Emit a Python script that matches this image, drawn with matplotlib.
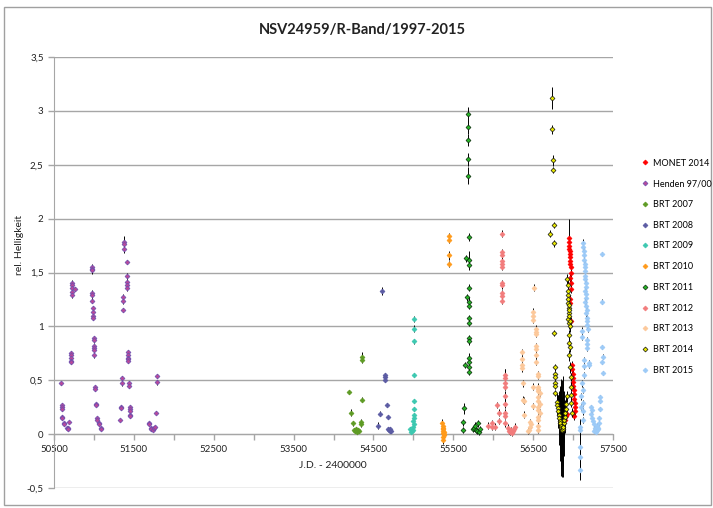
#!/usr/bin/python3

import numpy as np
import matplotlib
matplotlib.use("Agg")
import matplotlib.pyplot as plt
from matplotlib.lines import Line2D
from matplotlib.patches import Rectangle

plt.rcParams['font.family'] = ['Lato', 'DejaVu Sans']

TITLE = "NSV24959/R-Band/1997-2015"
X_LABEL = "J.D. - 2400000"
Y_LABEL = "rel. Helligkeit"

x_labels = [50500, 51500, 52500, 53500, 54500, 55500, 56500, 57500]
x_minor = [51000, 52000, 53000, 54000, 55000, 56000, 57000]
y_ticks = [-0.5, 0, 0.5, 1, 1.5, 2, 2.5, 3, 3.5]

# MONET 2014
mon_jd = [56948, 56950, 56955, 56952, 56960, 56958, 56962, 56965, 56960, 56968, 56970, 56965, 56972, 56973,
          56960, 56962, 56968,
          56985, 56990, 56995, 56998, 57000, 57005, 57010, 57012, 57015, 57018, 57020, 57023, 57010,
          56910, 56898, 56923]
mon_mag = [1.82, 1.78, 1.75, 1.72, 1.70, 1.67, 1.64, 1.61, 1.58, 1.55, 1.50, 1.45, 1.40, 1.35,
           1.25, 1.22, 1.05,
           0.64, 0.60, 0.56, 0.52, 0.48, 0.45, 0.41, 0.37, 0.33, 0.29, 0.25, 0.21, 0.17,
           0.17, 0.13, 0.19]
mon_err = [0.18, 0.04, 0.04, 0.04, 0.04, 0.04, 0.04, 0.04, 0.04, 0.04, 0.04, 0.04, 0.04, 0.04,
           0.04, 0.04, 0.04,
           0.04, 0.04, 0.04, 0.04, 0.04, 0.04, 0.04, 0.04, 0.04, 0.04, 0.04, 0.04, 0.04,
           0.03, 0.03, 0.03]

# Henden 97/00
hend_jd = [50588, 50600, 50600, 50600, 50600, 50600, 50625, 50625, 50663, 50675, 50675, 50688,
           50713, 50713, 50713, 50713, 50713, 50725, 50725, 50725, 50725, 50725, 50763,
           50976, 50976, 50976, 50976, 50976, 50976, 50988, 50988, 50988, 50988,
           51000, 51000, 51000, 51000, 51000, 51000, 51013, 51013, 51026, 51026, 51038, 51038,
           51063, 51063, 51088, 51088,
           51326, 51338, 51338, 51351, 51351, 51364, 51364, 51364, 51376, 51376, 51376,
           51414, 51414, 51414, 51414, 51414, 51426, 51426, 51426, 51426, 51426, 51439, 51439,
           51451, 51451, 51451, 51451, 51451, 51689, 51689, 51714, 51714, 51739, 51752, 51764,
           51777, 51790, 51790]
hend_mag = [0.47, 0.27, 0.25, 0.23, 0.16, 0.15, 0.10, 0.09, 0.06, 0.06, 0.05, 0.11,
            0.75, 0.73, 0.71, 0.68, 0.67, 1.40, 1.38, 1.36, 1.32, 1.29, 1.35,
            1.55, 1.53, 1.52, 1.31, 1.29, 1.24, 1.17, 1.13, 1.10, 1.08,
            0.89, 0.87, 0.82, 0.80, 0.78, 0.73, 0.44, 0.42, 0.28, 0.27, 0.15, 0.13,
            0.10, 0.09, 0.06, 0.05,
            0.13, 0.25, 0.24, 0.52, 0.47, 1.27, 1.24, 1.15, 1.78, 1.76, 1.72,
            1.60, 1.47, 1.41, 1.38, 1.36, 0.76, 0.73, 0.71, 0.70, 0.68, 0.47, 0.45,
            0.25, 0.23, 0.21, 0.18, 0.17, 0.10, 0.09, 0.06, 0.05, 0.04, 0.06, 0.07,
            0.20, 0.54, 0.48]
hend_err = [0.01, 0.02, 0.02, 0.02, 0.02, 0.02, 0.01, 0.01, 0.01, 0.01, 0.01, 0.01,
            0.02, 0.02, 0.02, 0.02, 0.02, 0.03, 0.03, 0.03, 0.03, 0.03, 0.02,
            0.03, 0.03, 0.03, 0.03, 0.03, 0.02, 0.02, 0.02, 0.02, 0.02,
            0.02, 0.02, 0.02, 0.02, 0.02, 0.02, 0.02, 0.02, 0.01, 0.01, 0.01, 0.01,
            0.01, 0.01, 0.01, 0.01,
            0.01, 0.02, 0.02, 0.02, 0.02, 0.03, 0.03, 0.02, 0.06, 0.04, 0.04,
            0.02, 0.03, 0.03, 0.03, 0.03, 0.02, 0.02, 0.02, 0.02, 0.02, 0.02, 0.02,
            0.02, 0.02, 0.02, 0.02, 0.02, 0.01, 0.01, 0.01, 0.01, 0.01, 0.01, 0.01,
            0.01, 0.02, 0.02]

# BRT 2007
b07_jd = [54193, 54356, 54356, 54356, 54218, 54243, 54343, 54343, 54256, 54268, 54281, 54293, 54306, 54318]
b07_mag = [0.39, 0.72, 0.69, 0.32, 0.20, 0.10, 0.11, 0.09, 0.04, 0.03, 0.05, 0.02, 0.04, 0.03]
b07_err = [0.02, 0.04, 0.03, 0.02, 0.03, 0.02, 0.03, 0.02, 0.02, 0.02, 0.02, 0.02, 0.02, 0.02]

# BRT 2008
b08_jd = [54607, 54645, 54645, 54645, 54670, 54582, 54683, 54557, 54683, 54695, 54708, 54720, 54708]
b08_mag = [1.33, 0.55, 0.53, 0.50, 0.27, 0.19, 0.16, 0.08, 0.05, 0.04, 0.03, 0.03, 0.05]
b08_err = [0.04, 0.02, 0.02, 0.02, 0.02, 0.02, 0.02, 0.03, 0.02, 0.02, 0.02, 0.02, 0.02]

# BRT 2009
b09_jd = [55007, 55007, 55007, 55007, 55007, 55005, 55003, 55007, 55001, 55005, 54995, 54990, 54970, 54982, 54957]
b09_mag = [1.07, 0.98, 0.86, 0.55, 0.31, 0.23, 0.18, 0.15, 0.12, 0.09, 0.07, 0.04, 0.02, 0.03, 0.05]
b09_err = [0.03, 0.03, 0.02, 0.02, 0.02, 0.02, 0.02, 0.02, 0.02, 0.02, 0.02, 0.02, 0.02, 0.02, 0.02]

# BRT 2010
b10_jd = [55445, 55445, 55445, 55445, 55360, 55365, 55370, 55372, 55375, 55378, 55368, 55380, 55383, 55373, 55376]
b10_mag = [1.84, 1.80, 1.66, 1.58, 0.10, 0.08, 0.06, 0.05, 0.03, 0.02, 0.01, 0.00, -0.01, -0.03, -0.05]
b10_err = [0.03, 0.03, 0.04, 0.03, 0.04, 0.03, 0.03, 0.03, 0.03, 0.03, 0.03, 0.03, 0.03, 0.04, 0.04]

# BRT 2011
b11_jd = [55683, 55683, 55683, 55683, 55683,
          55695, 55658, 55695, 55695, 55695, 55670, 55695, 55695, 55695, 55695, 55695, 55695,
          55695, 55695, 55695, 55645, 55695,
          55633, 55620, 55620, 55745, 55758, 55770, 55783, 55795, 55808, 55820, 55833]
b11_mag = [2.97, 2.85, 2.73, 2.55, 2.40,
           1.83, 1.63, 1.62, 1.57, 1.36, 1.27, 1.23, 1.19, 1.08, 1.03, 0.89, 0.86,
           0.71, 0.67, 0.62, 0.64, 0.58,
           0.24, 0.11, 0.04, 0.05, 0.06, 0.08, 0.04, 0.03, 0.10, 0.02, 0.05]
b11_err = [0.07, 0.06, 0.06, 0.06, 0.08,
           0.04, 0.03, 0.08, 0.05, 0.03, 0.03, 0.04, 0.03, 0.03, 0.03, 0.03, 0.03,
           0.04, 0.04, 0.03, 0.03, 0.03,
           0.05, 0.03, 0.03, 0.03, 0.03, 0.03, 0.03, 0.03, 0.03, 0.03, 0.03]

# BRT 2012
b12_jd = [56110, 56110, 56110, 56110, 56110, 56110, 56110, 56110, 56110, 56110, 56110,
          56147, 56147, 56147, 56147, 56147, 56147, 56147, 56147, 56147,
          56071, 56071, 55984, 55984, 56021, 55934, 56046,
          56184, 56196, 56209, 56221, 56234, 56246, 56259, 56271]
b12_mag = [1.86, 1.69, 1.66, 1.61, 1.58, 1.55, 1.40, 1.38, 1.31, 1.28, 1.24,
           0.55, 0.52, 0.47, 0.44, 0.35, 0.28, 0.20, 0.17, 0.10,
           0.20, 0.12, 0.10, 0.07, 0.07, 0.08, 0.27,
           0.06, 0.03, 0.02, 0.04, 0.01, 0.03, 0.05, 0.07]
b12_err = [0.03, 0.03, 0.03, 0.03, 0.03, 0.03, 0.03, 0.03, 0.03, 0.03, 0.03,
           0.05, 0.08, 0.06, 0.03, 0.05, 0.04, 0.03, 0.03, 0.03,
           0.03, 0.03, 0.03, 0.03, 0.03, 0.03, 0.03,
           0.03, 0.03, 0.03, 0.03, 0.03, 0.03, 0.03, 0.03]

# BRT 2013
b13_jd = [56360, 56360, 56360, 56360, 56372, 56372, 56385, 56385,
          56460, 56460, 56447, 56435, 56472,
          56497, 56497, 56510, 56497, 56497, 56497,
          56535, 56535, 56535, 56535, 56535, 56535, 56535,
          56560, 56560, 56560, 56560, 56560, 56560, 56560, 56560, 56560, 56560, 56560, 56560, 56560,
          56585, 56585, 56585]
b13_mag = [0.76, 0.70, 0.64, 0.61, 0.47, 0.32, 0.31, 0.18,
           0.11, 0.07, 0.04, 0.03, 0.09,
           0.44, 0.26, 1.36, 1.13, 1.10, 1.06,
           0.98, 0.95, 0.93, 0.82, 0.79, 0.73, 0.67,
           0.56, 0.54, 0.44, 0.42, 0.40, 0.34, 0.31, 0.25, 0.22, 0.16, 0.13, 0.08, 0.04,
           0.38, 0.28, 0.20]
b13_err = [0.03, 0.03, 0.03, 0.03, 0.03, 0.03, 0.03, 0.03,
           0.03, 0.03, 0.03, 0.03, 0.03,
           0.03, 0.03, 0.03, 0.04, 0.03, 0.03,
           0.03, 0.03, 0.03, 0.03, 0.03, 0.03, 0.03,
           0.03, 0.03, 0.03, 0.03, 0.03, 0.03, 0.03, 0.03, 0.03, 0.03, 0.03, 0.03, 0.03,
           0.03, 0.03, 0.03]

# BRT 2014
b14_jd = [56735, 56735, 56748, 56748, 56760, 56710, 56760,
          56760, 56772, 56772, 56772, 56772, 56772, 56772,
          56798, 56798, 56810, 56810, 56823, 56823, 56835, 56835, 56848, 56848, 56860,
          56860, 56873, 56873, 56885, 56885, 56898, 56898, 56910, 56910, 56923,
          56930, 56935, 56940, 56935, 56945, 56950, 56940, 56955, 56945, 56950, 56960,
          56955, 56965, 56970, 56975, 56978, 56980, 56985, 56935, 56940, 56945, 56950,
          56955, 56960, 56965]
b14_mag = [3.12, 2.83, 2.54, 2.45, 1.94, 1.86, 1.77,
           0.94, 0.62, 0.56, 0.53, 0.47, 0.45, 0.38,
           0.30, 0.27, 0.24, 0.21, 0.18, 0.15, 0.12, 0.10, 0.08, 0.06, 0.05,
           0.04, 0.05, 0.07, 0.10, 0.13, 0.16, 0.20, 0.23, 0.28, 0.35,
           1.44, 1.38, 1.29, 1.22, 1.17, 1.12, 1.07, 1.03, 0.92, 0.85, 0.81,
           0.73, 0.62, 0.53, 0.44, 0.36, 0.29, 0.20, 1.33, 1.25, 1.20, 1.15,
           1.10, 1.05, 1.00]
b14_err = [0.10, 0.04, 0.05, 0.03, 0.03, 0.03, 0.03,
           0.03, 0.03, 0.03, 0.03, 0.03, 0.03, 0.03,
           0.08, 0.10, 0.12, 0.15, 0.20, 0.25, 0.30, 0.35, 0.40, 0.45, 0.45,
           0.30, 0.35, 0.47, 0.30, 0.20, 0.15, 0.12, 0.10, 0.08, 0.05,
           0.05, 0.05, 0.05, 0.05, 0.05, 0.05, 0.05, 0.05, 0.05, 0.05, 0.05,
           0.05, 0.05, 0.04, 0.04, 0.04, 0.04, 0.04, 0.05, 0.05, 0.05, 0.05,
           0.05, 0.05, 0.05]

# BRT 2015
b15_jd = [57123, 57128, 57133, 57138, 57143, 57148, 57150, 57153, 57155, 57148, 57158, 57160,
          57150, 57163, 57165, 57155, 57168, 57170, 57160, 57175, 57178, 57180, 57185,
          57110, 57110, 57173, 57173, 57173, 57198, 57198, 57135, 57135, 57135,
          57123, 57123, 57123, 57123, 57098, 57098, 57110,
          57085, 57085, 57085, 57085, 57085,
          57360, 57360, 57360, 57360, 57335, 57335, 57335, 57236, 57223, 57223, 57370, 57370,
          57240, 57250, 57260, 57270, 57280, 57290, 57300, 57310, 57320, 57330,
          57265, 57285, 57305, 57315]
b15_mag = [1.77, 1.74, 1.70, 1.66, 1.62, 1.58, 1.55, 1.51, 1.47, 1.44, 1.40, 1.37,
           1.33, 1.30, 1.26, 1.23, 1.19, 1.15, 1.12, 1.08, 1.05, 1.01, 0.98,
           0.96, 0.90, 0.87, 0.84, 0.80, 0.66, 0.64, 0.69, 0.63, 0.55,
           0.41, 0.29, 0.21, 0.13, 0.35, 0.25, 0.47,
           0.07, 0.04, -0.12, -0.21, -0.33,
           1.67, 1.23, 0.81, 0.67, 0.34, 0.31, 0.23, 0.22, 0.25, 0.19, 0.72, 0.57,
           0.15, 0.12, 0.09, 0.06, 0.04, 0.03, 0.04, 0.06, 0.10, 0.15,
           0.03, 0.02, 0.08, 0.05]
b15_err = [0.04, 0.03, 0.03, 0.03, 0.03, 0.03, 0.03, 0.03, 0.03, 0.03, 0.03, 0.03,
           0.03, 0.03, 0.03, 0.03, 0.03, 0.03, 0.03, 0.03, 0.03, 0.03, 0.03,
           0.03, 0.03, 0.03, 0.03, 0.03, 0.03, 0.03, 0.03, 0.03, 0.03,
           0.03, 0.03, 0.03, 0.03, 0.03, 0.03, 0.03,
           0.05, 0.10, 0.15, 0.12, 0.10,
           0.02, 0.02, 0.02, 0.02, 0.02, 0.02, 0.02, 0.02, 0.02, 0.02, 0.02, 0.02,
           0.02, 0.02, 0.02, 0.02, 0.02, 0.02, 0.02, 0.02, 0.02, 0.02,
           0.02, 0.02, 0.02, 0.02]

# label, jd, mag, err, face colour, edge colour
series = [
    ("MONET 2014", mon_jd, mon_mag, mon_err, "#ff0000", "#ff0000"),
    ("Henden 97/00", hend_jd, hend_mag, hend_err, "#b8489a", "#6a4fb0"),
    ("BRT 2007", b07_jd, b07_mag, b07_err, "#5e9b24", "#5e9b24"),
    ("BRT 2008", b08_jd, b08_mag, b08_err, "#5b5ba3", "#5b5ba3"),
    ("BRT 2009", b09_jd, b09_mag, b09_err, "#3cc8b0", "#3cc8b0"),
    ("BRT 2010", b10_jd, b10_mag, b10_err, "#ff9a1a", "#ff9a1a"),
    ("BRT 2011", b11_jd, b11_mag, b11_err, "#26b526", "#0a2a0a"),
    ("BRT 2012", b12_jd, b12_mag, b12_err, "#f27c7c", "#f27c7c"),
    ("BRT 2013", b13_jd, b13_mag, b13_err, "#fcc89a", "#fcc89a"),
    ("BRT 2014", b14_jd, b14_mag, b14_err, "#e8e800", "#111111"),
    ("BRT 2015", b15_jd, b15_mag, b15_err, "#9ccaf7", "#9ccaf7"),
]


def main():
    fig = plt.figure(figsize=(7.13, 5.08), dpi=100)
    ax = fig.add_axes([54 / 713, 20 / 508, 559 / 713, 431 / 508])

    # chart border
    fig.patches.append(Rectangle((4 / 713, 3 / 508), 707 / 713, 498 / 508,
                                 transform=fig.transFigure, fill=False,
                                 edgecolor="#a0a0a0", lw=1))

    handles = []
    for i, (name, jd, mag, err, fc, ec) in enumerate(series):
        ax.errorbar(jd, mag, yerr=err, fmt="D", ms=2.5, mfc=fc, mec=ec, mew=0.5,
                    ecolor="black", elinewidth=0.7, capsize=0, zorder=3 + i * 0.1)
        handles.append(Line2D([], [], ls="none", marker="D", ms=2.5,
                              mfc=fc, mec=ec, mew=0.5, label=name))

    ax.set_xlim(50500, 57500)
    ax.set_ylim(-0.5, 3.5)

    ax.set_yticks(y_ticks)
    ax.set_yticklabels([("%g" % v).replace(".", ",") for v in y_ticks])
    ax.set_xticks(x_labels)
    ax.set_xticklabels([str(v) for v in x_labels])
    ax.set_xticks(x_minor, minor=True)

    ax.grid(axis="y", color="#a6a6a6", lw=1)
    ax.set_axisbelow(True)

    for s in ("top", "right"):
        ax.spines[s].set_visible(False)
    ax.spines["bottom"].set_position(("data", 0))
    ax.spines["bottom"].set_color("#a6a6a6")
    ax.spines["left"].set_color("#a6a6a6")

    ax.tick_params(axis="both", which="both", direction="out", length=4,
                   color="#a6a6a6", labelsize=7, labelcolor="#222222", width=1)
    ax.tick_params(axis="x", pad=4)

    fig.text(362 / 713, 1 - 30 / 508, TITLE, ha="center", va="center",
             fontsize=10.5, fontweight="bold", color="#222222")
    fig.text(333 / 713, 1 - 466 / 508, X_LABEL, ha="center", va="center",
             fontsize=7.5, color="#222222")
    fig.text(20 / 713, 1 - 245 / 508, Y_LABEL, ha="center", va="center",
             rotation=90, fontsize=7.5, color="#222222")

    fig.legend(handles=handles, loc="upper left",
               bbox_to_anchor=(638 / 713, 1 - 154 / 508), frameon=False,
               fontsize=6.5, labelspacing=1.3, handlelength=0.6,
               handletextpad=0.6, borderpad=0)

    fig.savefig("out.png", dpi=100)


if __name__ == "__main__":
    main()
